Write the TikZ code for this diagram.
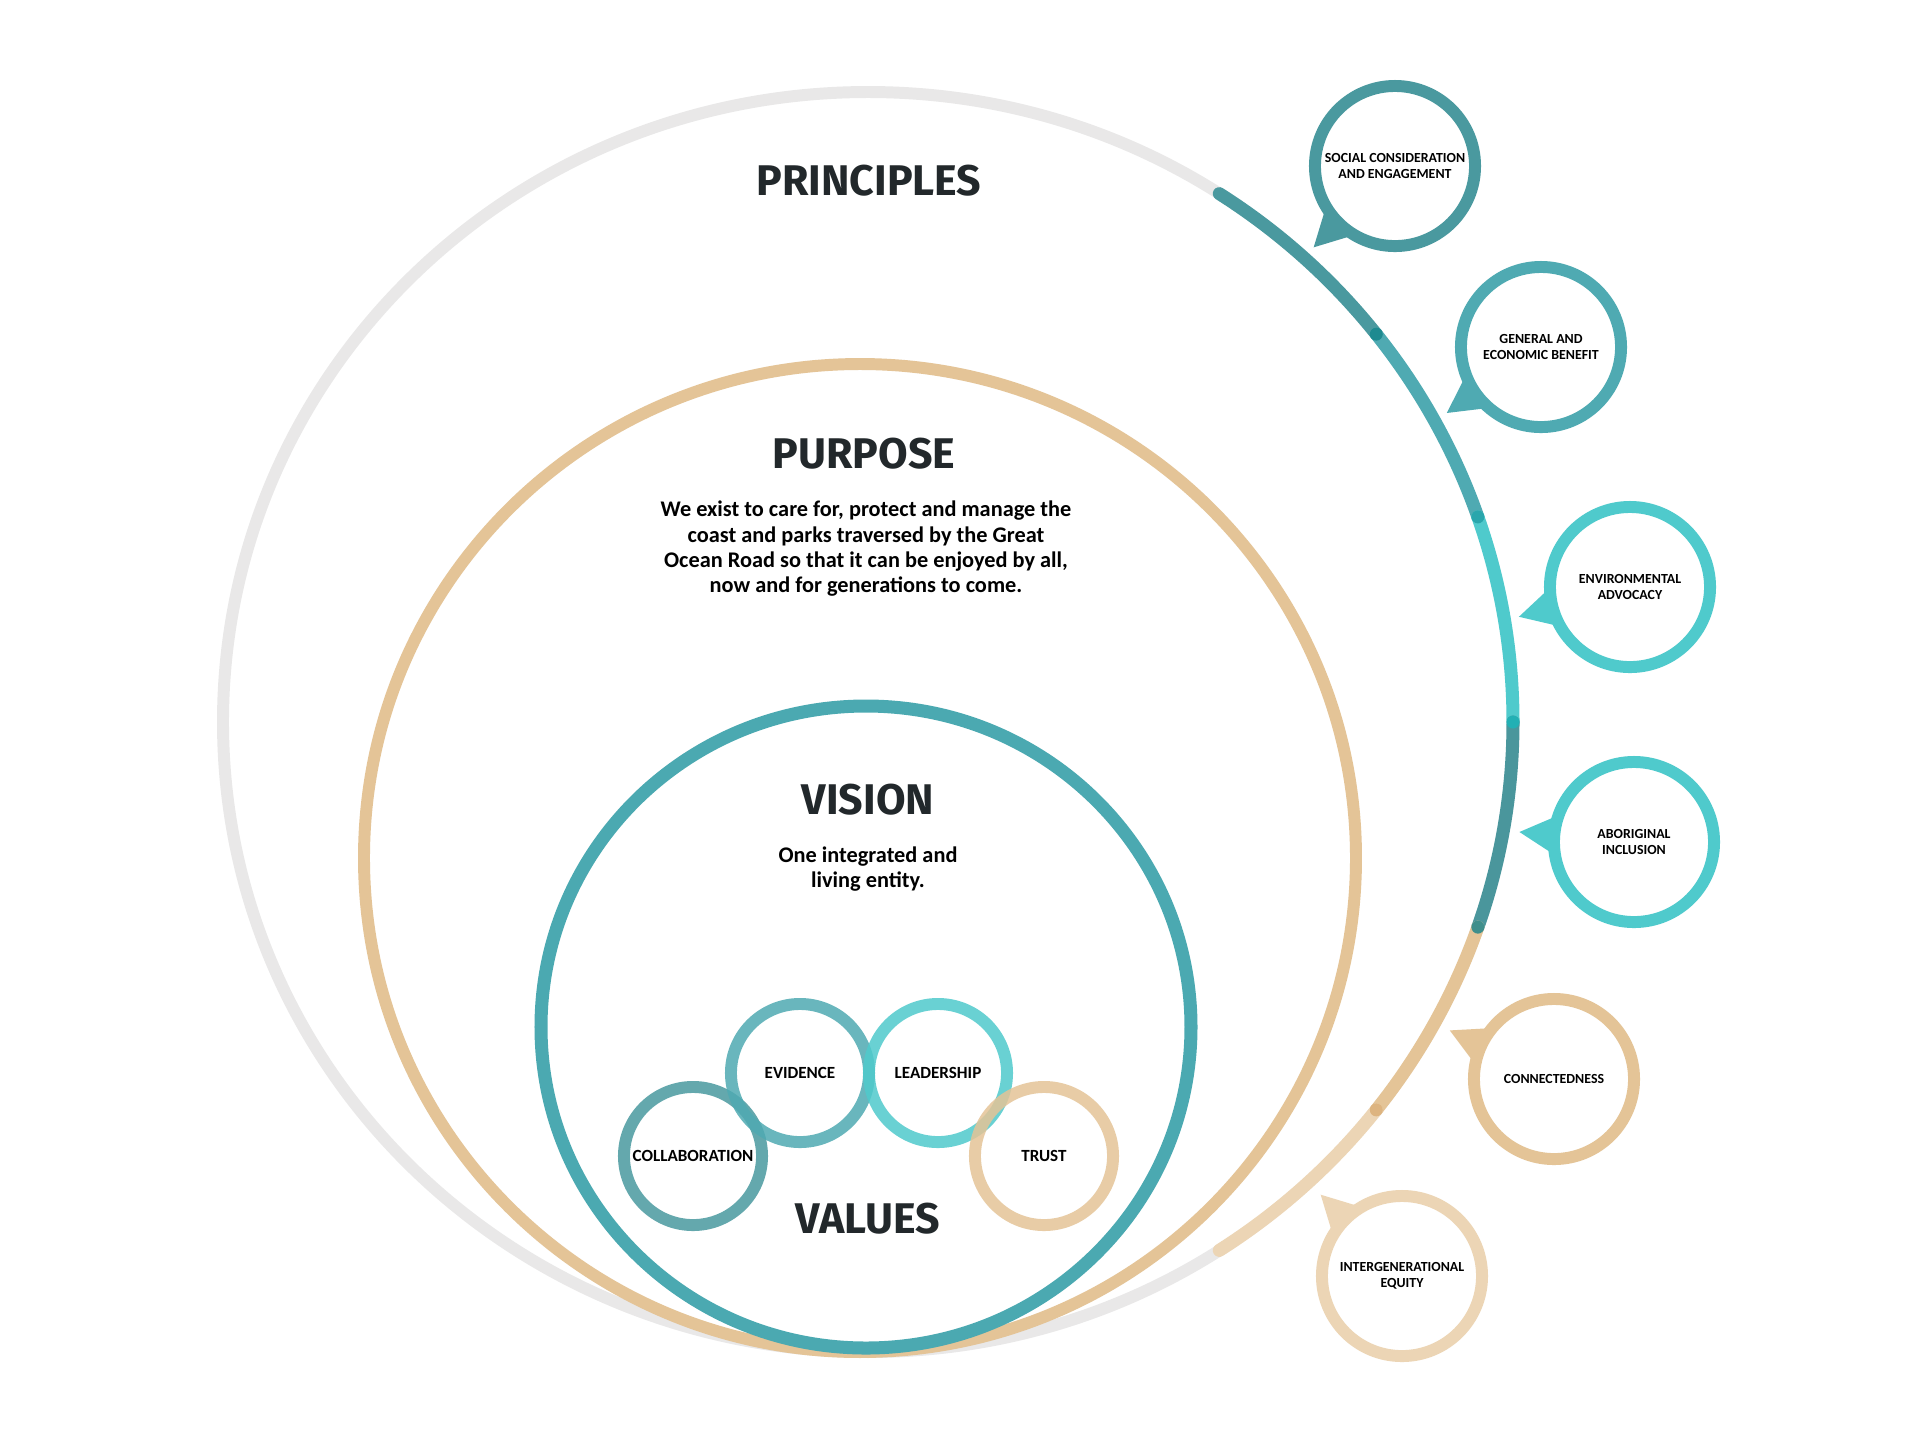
\documentclass[tikz,border=0pt]{standalone}
\usepackage{fontspec}
\setmainfont{Carlito}
\newfontfamily\headfont{Fira Sans}
\usetikzlibrary{calc}
\definecolor{cgrey}{HTML}{E9E8E8}
\definecolor{ctan}{HTML}{E4C497}
\definecolor{cltan}{HTML}{ECD5B5}
\definecolor{cvision}{HTML}{4BA9B1}
\definecolor{cdark}{HTML}{4A999F}
\definecolor{cteal}{HTML}{4FAAB2}
\definecolor{ccyan}{HTML}{4FCACC}
\definecolor{cdark2}{HTML}{4A969C}
\definecolor{chead}{HTML}{22282B}
\definecolor{dotA}{HTML}{1E8A90}
\definecolor{dotB}{HTML}{2AA6AC}
\definecolor{dotC}{HTML}{22B0B4}
\definecolor{dotD}{HTML}{3F8F8C}
\definecolor{dotE}{HTML}{DDB480}
\begin{document}
\begin{tikzpicture}[x=0.01cm,y=0.01cm,
  heading/.style={font=\headfont\bfseries\fontsize{12.2}{13}\selectfont, text=chead, inner sep=0pt},
  bodytext/.style={font=\bfseries\fontsize{6.35}{7.2}\selectfont, align=center, inner sep=0pt},
  bubble/.style={circle, draw=#1, line width=3.4pt, fill=white, minimum size=1.6cm, inner sep=0pt, align=center, font=\bfseries\fontsize{3.95}{4.55}\selectfont},
  valring/.style={circle, draw=#1, draw opacity=0.85, line width=3.4pt, minimum size=1.38cm, inner sep=0pt, font=\bfseries\fontsize{4.85}{5.5}\selectfont},
  seg/.style={line width=3.7pt, line cap=round}]
\useasboundingbox (0,0) rectangle (1920,-1435);
\fill[white] (0,0) rectangle (1920,-1435);

% outer principles ring
\coordinate (oc) at (868,-722);
\draw[cgrey, line width=3.4pt] (oc) ellipse [x radius=645, y radius=630];
\foreach \a/\b/\c in {57/38/cdark, 38/19/cteal, 19/0/ccyan, 0/-19/cdark2, -19/-38/ctan, -38/-57/cltan}
  \draw[seg, \c] ($(oc)+(\a:645 and 630)$) arc[start angle=\a, end angle=\b, x radius=645, y radius=630];
\foreach \a/\c in {38/dotA, 19/dotB, 0/dotC, -19/dotD, -38/dotE}
  \fill[\c] ($(oc)+(\a:645 and 630)$) circle[radius=6.5];

% purpose ring
\draw[ctan, line width=3.4pt] (860,-858) ellipse [x radius=496, y radius=494];
% vision ring
\draw[cvision, line width=3.7pt] (866,-1027) ellipse [x radius=325, y radius=321];

% headings
\node[heading] (principles) at (869,-181) {PRINCIPLES};
\node[heading] (purpose) at (864,-454) {PURPOSE};
\node[bodytext] (purposetext) at (866,-549) {We exist to care for, protect and manage the\\coast and parks traversed by the Great\\Ocean Road so that it can be enjoyed by all,\\now and for generations to come.};
\node[heading] (vision) at (868,-800) {VISION};
\node[bodytext] (visiontext) at (868,-869) {One integrated and\\living entity.};
\node[heading] (values) at (868,-1219) {VALUES};

% values
\node[valring=cdark] (collab) at (693,-1156) {COLLABORATION};
\node[valring=cteal] (evidence) at (800,-1073) {EVIDENCE};
\node[valring=ccyan] (leader) at (938,-1073) {LEADERSHIP};
\node[valring=ctan] (trust) at (1044,-1156) {TRUST};

% principle bubbles
\foreach \n/\x/\y/\d/\c/\t in {
  b1/1395/166/225/cdark/{SOCIAL CONSIDERATION\\AND ENGAGEMENT},
  b2/1541/347/215/cteal/{GENERAL AND\\ECONOMIC BENEFIT},
  b3/1630/587/195/ccyan/{ENVIRONMENTAL\\ADVOCACY},
  b4/1634/842/175/ccyan/{ABORIGINAL\\INCLUSION},
  b5/1554/1079/155/ctan/{CONNECTEDNESS},
  b6/1402/1276/135/cltan/{INTERGENERATIONAL\\EQUITY}} {
  \coordinate (\n c) at (\x,-\y);
  \fill[\c] ($(\n c)+(\d:115)$) -- ($(\n c)+(\d+19:74)$) -- ($(\n c)+(\d-19:74)$) -- cycle;
  \node[bubble=\c] (\n) at (\n c) {\t};
}
\end{tikzpicture}
\end{document}
